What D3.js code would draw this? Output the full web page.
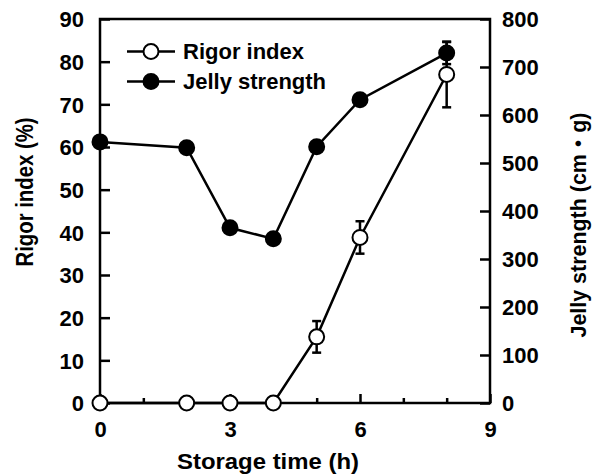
<!DOCTYPE html>
<html>
<head>
<meta charset="utf-8">
<script src="https://cdn.jsdelivr.net/npm/d3@7"></script>
<style>
  body { margin: 0; background: #fff; }
  svg text { font-family: "Liberation Sans", Arial, "Noto Sans CJK JP", sans-serif; font-weight: bold; fill: #000; }
</style>
</head>
<body>
<div id="chart"></div>
<script>
// storage time (h)
const hours = [0, 2, 3, 4, 5, 6, 8];
// rigor index (%), with error (sd)
const rigorIndex = [0, 0, 0, 0, 15.5, 38.8, 77];
const rigorErr = [0, 0, 0, 0, 3.7, 3.8, 7.7];
// jelly strength (cm·g)
const jellyStrength = [544, 532, 365, 342, 534, 632, 729];
const jellyErr = [0, 0, 0, 0, 0, 0, 23];

const xTicks = [0, 3, 6, 9];
const xMinorTicks = [1, 2, 4, 5, 7, 8];
const leftTicks = [0, 10, 20, 30, 40, 50, 60, 70, 80, 90];
const rightTicks = [0, 100, 200, 300, 400, 500, 600, 700, 800];

const width = 598, height = 475;
const margin = {left: 100, right: 108, top: 19, bottom: 72};

const svg = d3.select("#chart").append("svg")
    .attr("width", width)
    .attr("height", height)
    .attr("viewBox", [0, 0, width, height]);

const x = d3.scaleLinear().domain([0, 9]).range([margin.left, width - margin.right]);
const yL = d3.scaleLinear().domain([0, 90]).range([height - margin.bottom, margin.top]);
const yR = d3.scaleLinear().domain([0, 800]).range([height - margin.bottom, margin.top]);

const fs = 22;
const sw = 2.5;

// axes with inward ticks
const gL = svg.append("g").attr("transform", `translate(${x(0)},0)`)
    .call(d3.axisLeft(yL).tickValues(leftTicks).tickSize(-10).tickSizeOuter(0).tickPadding(16));
const gR = svg.append("g").attr("transform", `translate(${x(9)},0)`)
    .call(d3.axisRight(yR).tickValues(rightTicks).tickSize(-10).tickSizeOuter(0).tickPadding(12));
const gB = svg.append("g").attr("transform", `translate(0,${yL(0)})`)
    .call(d3.axisBottom(x).tickValues(xTicks).tickSize(-9).tickSizeOuter(0).tickPadding(18));
const gBm = svg.append("g").attr("transform", `translate(0,${yL(0)})`)
    .call(d3.axisBottom(x).tickValues(xMinorTicks).tickSize(-5).tickSizeOuter(0).tickFormat(""));

[gL, gR, gB, gBm].forEach(g => {
  g.select(".domain").remove();
  g.selectAll(".tick line").attr("stroke", "#000").attr("stroke-width", sw);
  g.selectAll(".tick text").attr("font-size", fs).attr("font-family", null).attr("fill", "#000");
});
gL.selectAll(".tick text").attr("dy", "0.36em");
gR.selectAll(".tick text").attr("dy", "0.36em");

// frame
svg.append("rect")
    .attr("x", x(0)).attr("y", yL(90))
    .attr("width", x(9) - x(0)).attr("height", yL(0) - yL(90))
    .attr("fill", "none").attr("stroke", "#000").attr("stroke-width", sw);

const jelly = hours.map((h, i) => ({h, v: jellyStrength[i], e: jellyErr[i]}));
const rigor = hours.map((h, i) => ({h, v: rigorIndex[i], e: rigorErr[i]}));

function drawSeries(data, y, fill) {
  const g = svg.append("g");
  g.append("path")
      .datum(data)
      .attr("fill", "none")
      .attr("stroke", "#000")
      .attr("stroke-width", sw)
      .attr("d", d3.line().x(d => x(d.h)).y(d => y(d.v)));
  const eb = g.selectAll(".eb").data(data.filter(d => d.e > 0)).enter().append("g");
  eb.append("line")
      .attr("x1", d => x(d.h)).attr("x2", d => x(d.h))
      .attr("y1", d => y(d.v - d.e)).attr("y2", d => y(d.v + d.e))
      .attr("stroke", "#000").attr("stroke-width", sw);
  [-1, 1].forEach(s => {
    eb.append("line")
        .attr("x1", d => x(d.h) - 4.5).attr("x2", d => x(d.h) + 4.5)
        .attr("y1", d => y(d.v + s * d.e)).attr("y2", d => y(d.v + s * d.e))
        .attr("stroke", "#000").attr("stroke-width", sw);
  });
  g.selectAll("circle").data(data).enter().append("circle")
      .attr("cx", d => x(d.h)).attr("cy", d => y(d.v))
      .attr("r", 7.5)
      .attr("fill", fill).attr("stroke", "#000").attr("stroke-width", 2);
}

drawSeries(jelly, yR, "#000");
drawSeries(rigor, yL, "#fff");

// legend
const legend = [
  {label: "Rigor index", fill: "#fff", y: 51.5},
  {label: "Jelly strength", fill: "#000", y: 81.5}
];
legend.forEach(l => {
  svg.append("line").attr("x1", 127).attr("x2", 175).attr("y1", l.y).attr("y2", l.y)
      .attr("stroke", "#000").attr("stroke-width", sw);
  svg.append("circle").attr("cx", 151).attr("cy", l.y).attr("r", 7.5)
      .attr("fill", l.fill).attr("stroke", "#000").attr("stroke-width", 2);
  svg.append("text").attr("x", 183).attr("y", l.y + 7.5)
      .attr("font-size", 22).text(l.label);
});

// axis titles
svg.append("text")
    .attr("transform", "translate(33,192) rotate(-90)")
    .attr("text-anchor", "middle").attr("font-size", 23)
    .attr("textLength", 149).attr("lengthAdjust", "spacingAndGlyphs")
    .text("Rigor index (%)");
svg.append("text")
    .attr("transform", "translate(586,225) rotate(-90)")
    .attr("text-anchor", "middle").attr("font-size", 22)
    .attr("textLength", 225).attr("lengthAdjust", "spacingAndGlyphs")
    .text("Jelly strength (cm\u30fbg)");
svg.append("text")
    .attr("x", 268).attr("y", 469)
    .attr("text-anchor", "middle").attr("font-size", 22)
    .attr("textLength", 182).attr("lengthAdjust", "spacingAndGlyphs")
    .text("Storage time (h)");
</script>
</body>
</html>
